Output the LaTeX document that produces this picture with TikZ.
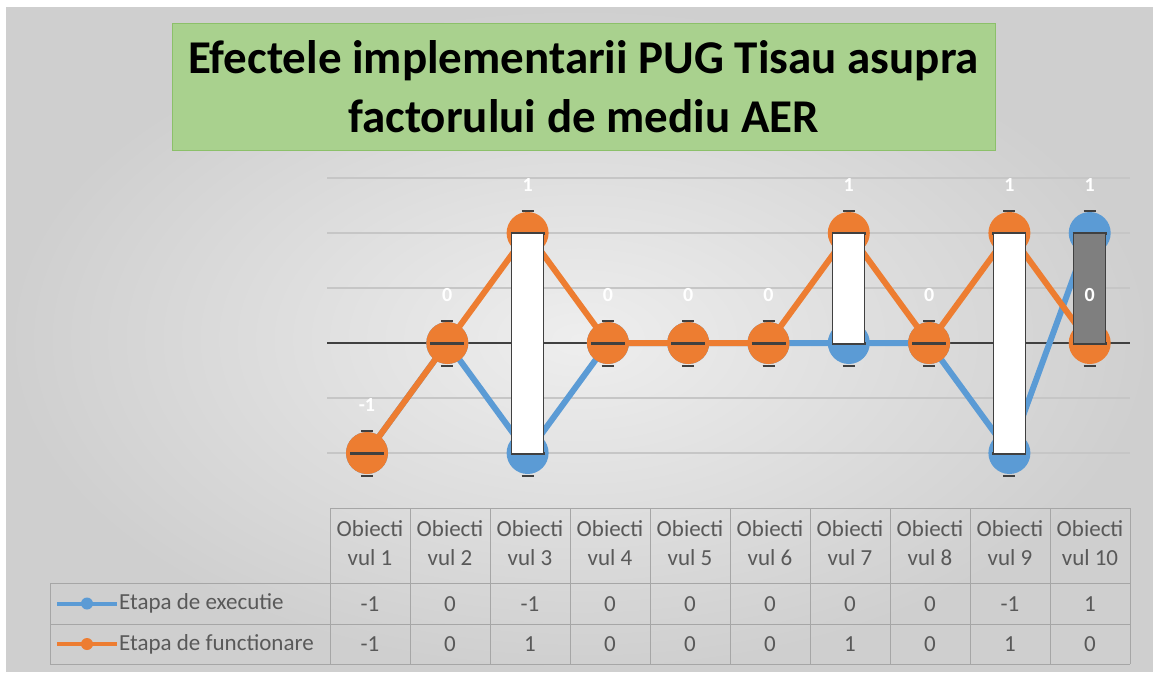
\documentclass[tikz,border=0pt]{standalone}
\usepackage{fontspec}
\setmainfont{Carlito}
\definecolor{bl}{HTML}{5B9BD5}
\definecolor{og}{HTML}{ED7D31}
\definecolor{tx}{HTML}{595959}
\definecolor{grn}{HTML}{A9D18E}
\definecolor{grnb}{HTML}{8CC06A}
\definecolor{axc}{HTML}{404040}
\definecolor{gridc}{HTML}{C6C6C6}
\definecolor{tbl}{HTML}{A6A6A6}
\definecolor{bgin}{HTML}{EEEEEE}
\definecolor{bgout}{HTML}{CFCFCF}
\definecolor{dbar}{HTML}{7F7F7F}
\begin{document}
\begin{tikzpicture}[x=1pt,y=-1pt,
  titlebox/.style={fill=grn, draw=grnb, line width=1pt, minimum width=823pt, minimum height=127pt, inner sep=0pt, align=center, font=\fontsize{47}{59}\selectfont\bfseries, text=black},
  gridline/.style={gridc, line width=1.2pt},
  axisline/.style={axc, line width=2.5pt},
  serline/.style={line width=6pt, line join=round},
  dashmark/.style={axc, line width=3pt},
  tickmark/.style={axc, line width=2pt},
  updown/.style={draw=axc, line width=1pt},
  dlabel/.style={text=white, font=\fontsize{20}{20}\selectfont\bfseries, inner sep=0pt},
  tline/.style={tbl, line width=1pt},
  ttext/.style={text=tx, font=\fontsize{23}{29}\selectfont, align=center, inner sep=0pt},
]
\useasboundingbox (0,0) rectangle (1153,675);
\fill[white] (0,0) rectangle (1153,675);
\shade[inner color=bgin, outer color=bgout] (6,7) rectangle (1153,671);

% title
\node[titlebox] (title) at (583.5,86.5) {Efectele implementarii PUG Tisau asupra\\factorului de mediu AER};

% grid
\foreach \yy in {178,233,288,398,453} \draw[gridline] (327,\yy) -- (1130,\yy);
\coordinate (axL) at (327,343);
\coordinate (axR) at (1130,343);
\draw[axisline] (axL) -- (axR);

% data points
\foreach \i/\b/\o in {1/-1/-1,2/0/0,3/-1/1,4/0/0,5/0/0,6/0/0,7/0/1,8/0/0,9/-1/1,10/1/0}{
  \coordinate (b\i) at ({367+80.3*(\i-1)},{343-110*(\b)});
  \coordinate (o\i) at ({367+80.3*(\i-1)},{343-110*(\o)});
}

% blue series
\draw[serline, bl] (b1) -- (b2) -- (b3) -- (b4) -- (b5) -- (b6) -- (b7) -- (b8) -- (b9) -- (b10);
\foreach \i in {1,...,10}{
  \fill[bl] (b\i) circle (21pt);
  \draw[dashmark] ([xshift=-17pt]b\i) -- ([xshift=17pt]b\i);
  \draw[tickmark] ([xshift=-6pt,yshift=22pt]b\i) -- ([xshift=6pt,yshift=22pt]b\i);
  \draw[tickmark] ([xshift=-6pt,yshift=-23pt]b\i) -- ([xshift=6pt,yshift=-23pt]b\i);
}
% orange series
\draw[serline, og] (o1) -- (o2) -- (o3) -- (o4) -- (o5) -- (o6) -- (o7) -- (o8) -- (o9) -- (o10);
\foreach \i in {1,...,10}{
  \fill[og] (o\i) circle (21pt);
  \draw[dashmark] ([xshift=-17pt]o\i) -- ([xshift=17pt]o\i);
  \draw[tickmark] ([xshift=-6pt,yshift=22pt]o\i) -- ([xshift=6pt,yshift=22pt]o\i);
  \draw[tickmark] ([xshift=-6pt,yshift=-23pt]o\i) -- ([xshift=6pt,yshift=-23pt]o\i);
}

% up/down bars
\foreach \i in {3,7,9}
  \draw[updown, fill=white] ([xshift=-16pt]o\i) rectangle ([xshift=16pt]b\i);
\draw[updown, fill=dbar] ([xshift=-16pt]b10) rectangle ([xshift=16pt]o10);

% data labels
\foreach \i/\t in {1/-1,2/0,3/1,4/0,5/0,6/0,7/1,8/0,9/1,10/0}
  \node[dlabel] (lo\i) at ([yshift=48pt]o\i) {\t};
\node[dlabel] (lb10) at ([yshift=48pt]b10) {1};

% table grid
\draw[tline] (330,508) -- (1130,508);
\draw[tline] (50,583) -- (1130,583);
\draw[tline] (50,624) -- (1130,624);
\draw[tline] (50,664) -- (1130,664);
\draw[tline] (50,583) -- (50,664);
\foreach \k in {0,...,10} \draw[tline] ({330+80*\k},508) -- ({330+80*\k},664);

% table texts
\foreach \k/\e/\f in {1/-1/-1,2/0/0,3/-1/1,4/0/0,5/0/0,6/0/0,7/0/1,8/0/0,9/-1/1,10/1/0}{
  \node[ttext] (h\k) at ({370+80*(\k-1)},543) {Obiecti\\vul \k};
  \node[ttext] (e\k) at ({370+80*(\k-1)},604) {\e};
  \node[ttext] (f\k) at ({370+80*(\k-1)},644) {\f};
}

% legend
\coordinate (lbA) at (57,603.5);
\coordinate (lbB) at (117,603.5);
\coordinate (loA) at (57,644);
\coordinate (loB) at (117,644);
\draw[bl, line width=4pt] (lbA) -- (lbB);
\fill[bl] (87,603.5) circle (6pt);
\draw[og, line width=4pt] (loA) -- (loB);
\fill[og] (87,644) circle (6pt);
\node[ttext, anchor=west] (legb) at (119,603.5) {Etapa de executie};
\node[ttext, anchor=west] (lego) at (119,644) {Etapa de functionare};
\end{tikzpicture}
\end{document}
